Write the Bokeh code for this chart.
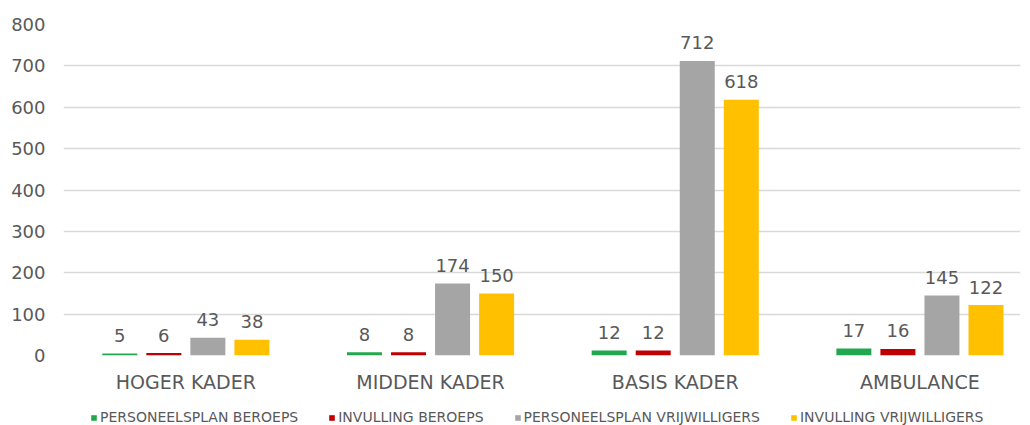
from bokeh.plotting import figure
from bokeh.models import (ColumnDataSource, Range1d, Legend, LegendItem,
                          FixedTicker)
from bokeh.layouts import column
from bokeh.transform import dodge
from bokeh.core.properties import value
from bokeh.embed import file_html
from bokeh.resources import INLINE

categories = ["HOGER KADER", "MIDDEN KADER", "BASIS KADER", "AMBULANCE"]
series_names = ["PERSONEELSPLAN BEROEPS", "INVULLING BEROEPS",
                "PERSONEELSPLAN VRIJWILLIGERS", "INVULLING VRIJWILLIGERS"]
personeelsplan_beroeps = [5, 8, 12, 17]
invulling_beroeps = [6, 8, 12, 16]
personeelsplan_vrijwilligers = [43, 174, 712, 145]
invulling_vrijwilligers = [38, 150, 618, 122]
colors = ["#21A84E", "#C00000", "#A5A5A5", "#FFC000"]
y_ticks = [0, 100, 200, 300, 400, 500, 600, 700, 800]

series = [personeelsplan_beroeps, invulling_beroeps,
          personeelsplan_vrijwilligers, invulling_vrijwilligers]

FONT = "DejaVu Sans"
TXT = "#595959"

cat_pos = [i + 0.5 for i in range(len(categories))]

p = figure(x_range=Range1d(0, 3.911), y_range=Range1d(0, 800),
           width=1030, height=405, output_backend="svg",
           toolbar_location=None,
           min_border_left=63, min_border_right=10, min_border_top=24,
           min_border_bottom=50)
p.outline_line_color = None

data = dict(x=cat_pos)
for i in range(4):
    data["s%d" % i] = series[i]
    data["l%d" % i] = [str(v) for v in series[i]]
src = ColumnDataSource(data)

step = 0.18
offsets = [-1.5 * step, -0.5 * step, 0.5 * step, 1.5 * step]
for i in range(4):
    p.vbar(x=dodge("x", offsets[i]), top="s%d" % i, width=0.143,
           source=src, fill_color=colors[i], line_color=None)
    p.text(x=dodge("x", offsets[i]), y="s%d" % i, text="l%d" % i,
           source=src, y_offset=-18, text_align="center",
           text_baseline="alphabetic", text_font=value(FONT),
           text_font_size="18px", text_color=TXT)

p.yaxis.ticker = FixedTicker(ticks=y_ticks)
p.yaxis.axis_line_color = None
p.yaxis.major_tick_line_color = None
p.yaxis.minor_tick_line_color = None
p.yaxis.major_tick_out = 0
p.yaxis.major_tick_in = 0
p.yaxis.major_label_text_font = FONT
p.yaxis.major_label_text_font_size = "18px"
p.yaxis.major_label_text_color = TXT
p.yaxis.major_label_standoff = 18

p.xaxis.ticker = FixedTicker(ticks=cat_pos)
p.xaxis.major_label_overrides = {pos: name for pos, name in zip(cat_pos, categories)}
p.xaxis.axis_line_color = None
p.xaxis.major_tick_line_color = None
p.xaxis.minor_tick_line_color = None
p.xaxis.major_tick_out = 0
p.xaxis.major_tick_in = 0
p.xaxis.major_label_text_font = FONT
p.xaxis.major_label_text_font_size = "19px"
p.xaxis.major_label_text_color = TXT
p.xaxis.major_label_standoff = 15

p.xgrid.grid_line_color = None
p.ygrid.grid_line_color = "#D9D9D9"
p.ygrid.grid_line_width = 1.5

# legend strip (its frame is aligned with the chart frame by the column layout)
lg = figure(x_range=Range1d(0, 1), y_range=Range1d(0, 1),
            width=1030, height=20, output_backend="svg",
            toolbar_location=None, min_border=0)
lg.outline_line_color = None
lg.axis.visible = False
lg.grid.visible = False
items = []
for i in range(4):
    r = lg.vbar(x=[5], top=[0], width=0.1, fill_color=colors[i], line_color=None)
    items.append(LegendItem(label=series_names[i], renderers=[r]))
legend = Legend(items=items, orientation="horizontal",
                label_text_font=FONT, label_text_font_size="14px",
                label_text_color=TXT, glyph_width=7, glyph_height=7,
                label_standoff=3, spacing=30, padding=0, margin=0,
                label_height=14, border_line_color=None,
                background_fill_alpha=0, location=(27, 0))
lg.add_layout(legend, "center")

layout = column(p, lg, spacing=0)
open("out.html", "w").write(file_html(layout, INLINE))
